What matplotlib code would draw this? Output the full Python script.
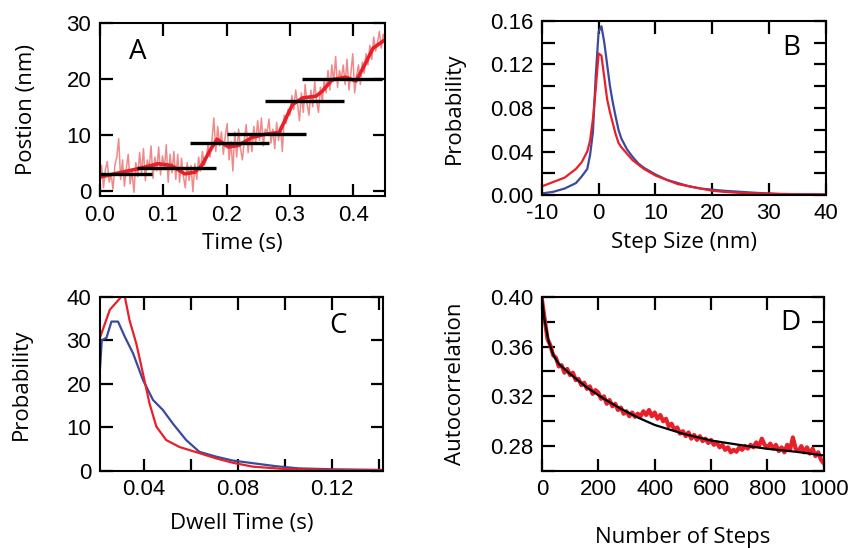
import numpy as np
import matplotlib
matplotlib.use("Agg")
import matplotlib.pyplot as plt
from matplotlib.ticker import MultipleLocator, FormatStrFormatter

# ── data ────────────────────────────────────────────────
# A: position trace (raw, smoothed) and fitted steps
raw_pos = [
    1.0, 4.5, 0.5, 3.8, 5.2, 1.5, 3.0, 0.2, 4.6, 6.0,
    9.3, 2.0, 5.5, 0.8, 4.0, 6.5, 1.2, 3.5, -0.3, 5.0,
    2.5, 6.8, 3.0, 7.5, 1.8, 5.5, 4.0, 8.0, 2.2, 6.0,
    3.5, 7.8, 2.8, 6.2, 4.0, 8.2, 1.5, 6.5, 3.2, 7.0,
    2.0, 6.5, 1.5, 5.8, 2.5, 0.5, 5.0, 1.8, 4.5, -0.2,
    4.8, 2.0, 6.0, 3.5, 7.0, 4.5, 5.5, 8.5, 6.0, 9.0,
    13.0, 7.0, 11.5, 8.0, 10.5, 6.5, 9.8, 12.0, 5.5, 8.8,
    3.5, 10.5, 6.0, 11.0, 7.5, 5.5, 9.0, 11.8, 6.8, 10.2,
    7.0, 11.5, 8.5, 12.5, 9.0, 13.0, 8.0, 11.0, 10.5, 12.8,
    8.5, 11.0, 7.5, 12.2, 9.0, 11.5, 7.0, 13.5, 12.0, 14.5,
    13.5, 17.0, 14.5, 18.0, 15.5, 12.5, 17.5, 14.0, 19.0, 15.5,
    13.5, 18.0, 15.0, 19.5, 16.0, 14.0, 18.5, 16.0, 20.0, 17.5,
    21.5, 18.0, 22.5, 19.5, 24.0, 18.5, 21.5, 20.0, 22.5, 19.0,
    23.5, 18.0, 21.0, 24.5, 17.5, 20.5, 22.5, 19.0, 23.0, 21.0,
    24.5, 22.5, 26.0, 23.5, 27.5, 25.0, 26.5, 28.5, 25.5, 28.0,
    27.0,
]
raw_time = np.linspace(0, 0.45, len(raw_pos))

smooth_time = [0.0, 0.023, 0.06, 0.092, 0.113, 0.134, 0.150, 0.161, 0.174, 0.185,
               0.203, 0.219, 0.240, 0.261, 0.283, 0.293, 0.304, 0.320, 0.341, 0.351,
               0.367, 0.388, 0.404, 0.415, 0.431, 0.45]
smooth_pos = [2.4, 3.0, 3.9, 4.8, 4.5, 3.0, 3.3, 4.5, 7.2, 9.2,
              7.8, 8.1, 9.5, 10.1, 10.4, 12.8, 15.4, 16.6, 16.9, 17.8,
              19.9, 20.3, 19.6, 21.9, 25.5, 27.0]

step_start = [0.0, 0.059, 0.143, 0.200, 0.260, 0.319]
step_end   = [0.083, 0.183, 0.267, 0.325, 0.385, 0.445]
step_level = [2.9, 4.0, 8.5, 10.1, 16.1, 20.0]

# B: step size distributions
step_size = [-10, -8, -6, -4, -3, -2, -1.5, -1, -0.5, 0, 0.5, 1, 1.5, 2, 2.5, 3, 3.5, 4,
             5, 6, 7, 8, 10, 12, 14, 16, 18, 20, 22, 25, 28, 32, 36, 40]
prob_red = [0.008, 0.012, 0.016, 0.024, 0.030, 0.040, 0.050, 0.070, 0.098, 0.130,
            0.128, 0.108, 0.088, 0.076, 0.066, 0.056, 0.048, 0.044, 0.038, 0.032,
            0.028, 0.024, 0.018, 0.014, 0.010, 0.008, 0.006, 0.004, 0.003, 0.002,
            0.0015, 0.001, 0.0008, 0.0005]
prob_blue = [0.0015, 0.003, 0.006, 0.011, 0.017, 0.024, 0.037, 0.058, 0.110, 0.150,
             0.155, 0.140, 0.120, 0.100, 0.085, 0.072, 0.060, 0.052, 0.042, 0.035,
             0.029, 0.025, 0.019, 0.014, 0.011, 0.008, 0.006, 0.005, 0.004, 0.003,
             0.002, 0.001, 0.0008, 0.0005]

# C: dwell time distributions
dwell_red_t = [0.0213, 0.0256, 0.0305, 0.032, 0.034, 0.0369, 0.0397, 0.0425, 0.0454,
               0.0496, 0.0553, 0.0637, 0.0708, 0.0779, 0.0864, 0.099, 0.12, 0.1415]
dwell_red_p = [30.4, 37.0, 40.0, 40.0, 34.6, 29.2, 22.4, 15.5, 10.2,
               7.1, 5.5, 4.1, 2.9, 1.9, 1.0, 0.5, 0.2, 0.15]
dwell_blue_t = [0.0214, 0.0222, 0.0242, 0.0263, 0.0291, 0.032, 0.0355, 0.0397, 0.044,
                0.0482, 0.0524, 0.0581, 0.0637, 0.0708, 0.0779, 0.0864, 0.0963, 0.106,
                0.12, 0.1415]
dwell_blue_p = [23.2, 30.0, 30.6, 34.3, 34.3, 30.8, 27.0, 20.9, 16.3,
                14.0, 10.9, 7.1, 4.4, 3.3, 2.4, 1.8, 1.1, 0.6,
                0.4, 0.25]

# D: autocorrelation (data every 10 steps) and fit
autocorr = [
    0.398, 0.382, 0.366, 0.361, 0.353, 0.351, 0.344, 0.345, 0.339, 0.342,
    0.337, 0.339, 0.333, 0.334, 0.329, 0.331, 0.326, 0.328, 0.322, 0.325,
    0.323, 0.318, 0.320, 0.314, 0.317, 0.312, 0.314, 0.309, 0.311, 0.306,
    0.308, 0.304, 0.307, 0.3035, 0.306, 0.304, 0.308, 0.305, 0.309, 0.304,
    0.307, 0.302, 0.305, 0.300, 0.302, 0.296, 0.298, 0.293, 0.295, 0.290,
    0.292, 0.288, 0.291, 0.286, 0.289, 0.285, 0.288, 0.284, 0.286, 0.2825,
    0.285, 0.281, 0.283, 0.279, 0.281, 0.277, 0.279, 0.275, 0.277, 0.2755,
    0.279, 0.277, 0.280, 0.278, 0.281, 0.279, 0.283, 0.280, 0.286, 0.281,
    0.279, 0.282, 0.278, 0.281, 0.276, 0.279, 0.275, 0.281, 0.277, 0.287,
    0.278, 0.276, 0.280, 0.275, 0.279, 0.274, 0.278, 0.272, 0.275, 0.269,
    0.266,
]
n_steps = np.linspace(0, 1000, len(autocorr))
fit_steps = [0, 8, 24, 41, 60, 100, 160, 220, 280, 340, 400, 500, 600, 700, 800, 900, 1000]
fit_vals = [0.400, 0.383, 0.364, 0.353, 0.346, 0.338, 0.327, 0.318, 0.310, 0.303,
            0.297, 0.290, 0.2845, 0.281, 0.2778, 0.2755, 0.2725]

# ── style ───────────────────────────────────────────────
RED = '#e8202a'
PINK = '#f08a8a'
BLUE = '#3b4a9c'
TICK_FONT = 'Liberation Sans'
LABEL_FONT = 'Open Sans'
plt.rcParams['axes.unicode_minus'] = False

fig = plt.figure(figsize=(8.52, 5.48), dpi=100)
axA = fig.add_axes([0.117, 0.642, 0.335, 0.316])
axB = fig.add_axes([0.636, 0.644, 0.333, 0.318])
axC = fig.add_axes([0.117, 0.1405, 0.333, 0.318])
axD = fig.add_axes([0.636, 0.1405, 0.331, 0.318])


def style(ax, letter, lx, ly, xlabel, ylabel, xl_y, yl_x):
    for s in ax.spines.values():
        s.set_linewidth(1.5)
    ax.tick_params(which='both', direction='in', top=True, right=True,
                   length=9, width=1.6, pad=6, labelsize=16)
    for lab in ax.get_xticklabels() + ax.get_yticklabels():
        lab.set_fontfamily(TICK_FONT)
    ax.set_xlabel(xlabel, fontsize=16, fontfamily=LABEL_FONT)
    ax.set_ylabel(ylabel, fontsize=16, fontfamily=LABEL_FONT)
    ax.xaxis.set_label_coords(0.5, xl_y)
    ax.yaxis.set_label_coords(yl_x, 0.5)
    ax.text(lx, ly, letter, transform=ax.transAxes, fontsize=20,
            fontfamily=LABEL_FONT, ha='center', va='center')


# ── A ──
axA.plot(raw_time, raw_pos, color=PINK, lw=1.1)
axA.plot(smooth_time, smooth_pos, color=RED, lw=2.6)
axA.hlines(step_level, step_start, step_end, color='black', lw=2.4)
axA.set_xlim(0, 0.45)
axA.set_ylim(-1, 30)
axA.xaxis.set_major_locator(MultipleLocator(0.1))
axA.yaxis.set_major_locator(MultipleLocator(10))
axA.xaxis.set_major_formatter(FormatStrFormatter('%.1f'))
style(axA, 'A', 0.133, 0.83, 'Time (s)', 'Postion (nm)', -0.21, -0.218)

# ── B ──
axB.plot(step_size, prob_blue, color=BLUE, lw=1.6)
axB.plot(step_size, prob_red, color=RED, lw=1.6)
axB.set_xlim(-10, 40)
axB.set_ylim(0, 0.16)
axB.xaxis.set_major_locator(MultipleLocator(10))
axB.yaxis.set_major_locator(MultipleLocator(0.04))
axB.yaxis.set_minor_locator(MultipleLocator(0.02))
axB.yaxis.set_major_formatter(FormatStrFormatter('%.2f'))
style(axB, 'B', 0.88, 0.845, 'Step Size (nm)', 'Probability', -0.21, -0.27)

# ── C ──
axC.plot(dwell_blue_t, dwell_blue_p, color=BLUE, lw=1.6)
axC.plot(dwell_red_t, dwell_red_p, color=RED, lw=1.6)
axC.set_xlim(0.0213, 0.142)
axC.set_ylim(0, 40)
axC.xaxis.set_major_locator(MultipleLocator(0.04))
axC.xaxis.set_minor_locator(MultipleLocator(0.02))
axC.yaxis.set_major_locator(MultipleLocator(10))
axC.xaxis.set_major_formatter(FormatStrFormatter('%.2f'))
style(axC, 'C', 0.84, 0.83, 'Dwell Time (s)', 'Probability', -0.24, -0.24)

# ── D ──
axD.plot(n_steps, autocorr, color=RED, lw=3.0)
axD.plot(fit_steps, fit_vals, color='black', lw=1.6)
axD.set_xlim(0, 1000)
axD.set_ylim(0.26, 0.40)
axD.xaxis.set_major_locator(MultipleLocator(200))
axD.set_yticks([0.28, 0.32, 0.36, 0.40])
axD.yaxis.set_minor_locator(MultipleLocator(0.02))
axD.yaxis.set_major_formatter(FormatStrFormatter('%.2f'))
style(axD, 'D', 0.88, 0.85, 'Number of Steps', 'Autocorrelation', -0.32, -0.27)

fig.savefig('out.png', dpi=100)
